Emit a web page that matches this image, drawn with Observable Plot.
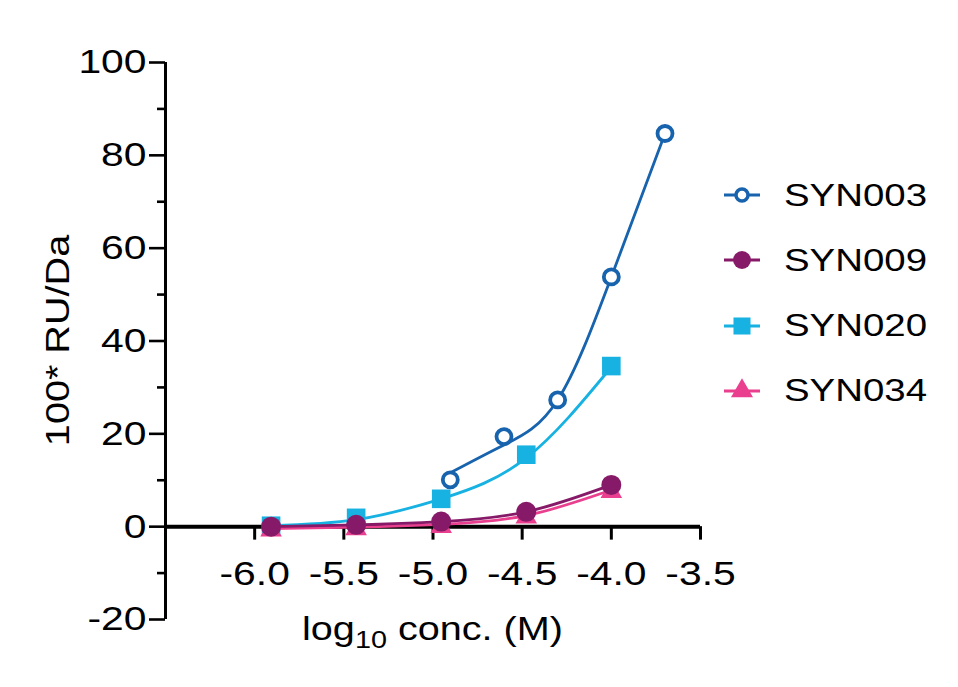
<!DOCTYPE html>
<html><head><meta charset="utf-8">
<script src="https://cdn.jsdelivr.net/npm/d3@7"></script>
<script src="https://cdn.jsdelivr.net/npm/@observablehq/plot@0.6"></script>
<style>
body{margin:0;background:#fff;}
#wrap{position:relative;width:958px;height:687px;font-family:"Liberation Sans",Arial,sans-serif;}
#legend{position:absolute;left:722px;top:0;}
.item{position:absolute;left:0;display:flex;align-items:center;height:40px;white-space:nowrap;}
.item span{font-size:32px;color:#000;transform:scaleX(1.2);transform-origin:left center;display:inline-block;margin-left:22px;}
</style></head><body><div id="wrap"></div>
<script>
// ---- data ----
const seriesNames   = ["SYN003", "SYN009", "SYN020", "SYN034"];
const seriesColors  = ["#1763ad", "#861a68", "#17b2e2", "#e93f8e"];
const seriesSymbols = ["circle", "circle", "square", "triangle"];

const xSyn003 = [-4.903, -4.602, -4.301, -4.000, -3.699];        // log10 conc. for SYN003
const xOthers = [-5.908, -5.431, -4.954, -4.477, -4.000];        // log10 conc. for SYN009/020/034

const ySyn003 = [10.1, 19.4, 27.3, 53.8, 84.7];
const ySyn009 = [0.0, 0.4, 1.1, 3.2, 9.0];
const ySyn020 = [0.2, 1.9, 6.0, 15.5, 34.6];
const ySyn034 = [-0.8, -0.5, 0.0, 2.0, 7.5];

// fitted curves, read at the same concentrations
const fitSyn003 = [11.6, 17.6, 27.3, 53.8, 84.7];
const fitSyn009 = [0.0, 0.4, 1.1, 3.2, 9.0];
const fitSyn020 = [0.2, 1.5, 6.0, 14.8, 34.4];
const fitSyn034 = [-0.4, -0.1, 0.5, 2.4, 7.9];

const xTicks = [-6.0, -5.5, -5.0, -4.5, -4.0, -3.5];
const yTicks = [-20, 0, 20, 40, 60, 80, 100];
const yMinorTicks = [-10, 10, 30, 50, 70, 90];
const xDomain = [-6.5, -3.5];
const yDomain = [-20, 100];
const xTitleParts = ["log", "10", " conc. (M)"];
const yTitle = "100* RU/Da";

// ---- tables ----
const xs = {SYN003: xSyn003, SYN009: xOthers, SYN020: xOthers, SYN034: xOthers};
const ys = {SYN003: ySyn003, SYN009: ySyn009, SYN020: ySyn020, SYN034: ySyn034};
const fits = {SYN003: fitSyn003, SYN009: fitSyn009, SYN020: fitSyn020, SYN034: fitSyn034};
const pts = [], fitRows = [];
for (const s of seriesNames) {
  xs[s].forEach((x, i) => { pts.push({s, x, y: ys[s][i]}); fitRows.push({s, x, y: fits[s][i]}); });
}
const colorOf = s => seriesColors[seriesNames.indexOf(s)];
const drawOrder = ["SYN020", "SYN034", "SYN009", "SYN003"];

const seriesMarks = [];
for (const s of drawOrder) {
  const c = colorOf(s);
  seriesMarks.push(Plot.line(fitRows.filter(d => d.s === s), {x: "x", y: "y", stroke: c, strokeWidth: 2.8, curve: "natural"}));
  const sym = seriesSymbols[seriesNames.indexOf(s)];
  const P = pts.filter(d => d.s === s);
  if (s === "SYN003") {
    seriesMarks.push(Plot.dot(P, {x: "x", y: "y", r: 7.5, fill: "white", stroke: c, strokeWidth: 3.8}));
  } else if (sym === "square") {
    seriesMarks.push(Plot.dot(P, {x: "x", y: "y", r: 10.5, symbol: "square", fill: c, stroke: "none"}));
  } else if (sym === "triangle") {
    seriesMarks.push(Plot.dot(P, {x: "x", y: "y", r: 8, symbol: "triangle", fill: c, stroke: "none"}));
  } else {
    seriesMarks.push(Plot.dot(P, {x: "x", y: "y", r: 10, fill: c, stroke: "none"}));
  }
}

const chart = Plot.plot({
  width: 958, height: 687,
  marginLeft: 165, marginRight: 258, marginTop: 62, marginBottom: 68,
  x: {domain: xDomain, axis: null},
  y: {domain: yDomain},
  style: {fontFamily: "'Liberation Sans', Arial, sans-serif", background: "white", color: "black", overflow: "visible"},
  marks: [
    Plot.axisY(yTicks, {tickSize: 16, tickPadding: 3, fontSize: 34, strokeWidth: 2.6, tickFormat: d => String(d), label: null}),
    Plot.axisY(yMinorTicks, {tickSize: 8, strokeWidth: 2.6, tickFormat: () => "", label: null}),
    Plot.ruleX([xDomain[0]], {y1: yDomain[0], y2: yDomain[1], strokeWidth: 3}),
    Plot.ruleY([0], {strokeWidth: 4}),
    Plot.ruleX(xTicks, {y1: 0, y2: -2.9, strokeWidth: 3}),
    Plot.text(xTicks, {x: d => d, y: 0, dy: 47, text: d => d.toFixed(1), fontSize: 34, fill: "black"}),
    ...seriesMarks
  ]
});

const wrap = document.getElementById("wrap");
wrap.appendChild(chart);

// axis titles
const svg = d3.select(chart);
const sx = chart.scale("x"), sy = chart.scale("y");
const xt = svg.append("text")
  .attr("x", (sx.apply(xDomain[0]) + sx.apply(xDomain[1])) / 2)
  .attr("y", 640).attr("text-anchor", "middle")
  .attr("font-size", 33).attr("fill", "black");
xt.append("tspan").text(xTitleParts[0]);
xt.append("tspan").attr("font-size", 24).attr("dy", 8).text(xTitleParts[1]);
xt.append("tspan").attr("dy", -8).text(xTitleParts[2]);
svg.append("text")
  .attr("transform", `translate(57,${(sy.apply(yDomain[0]) + sy.apply(yDomain[1])) / 2}) rotate(-90)`)
  .attr("text-anchor", "middle").attr("dominant-baseline", "central")
  .attr("font-size", 33).attr("fill", "black").text(yTitle);

// the reference typeface is horizontally wider: stretch text glyphs
chart.querySelectorAll("text").forEach(t => {
  const L = t.getComputedTextLength();
  if (L > 0) { t.setAttribute("textLength", (L * 1.2).toFixed(1)); t.setAttribute("lengthAdjust", "spacingAndGlyphs"); }
});

// legend
const legend = d3.select(wrap).append("div").attr("id", "legend");
seriesNames.forEach((s, i) => {
  const item = legend.append("div").attr("class", "item").style("top", (175 + i * 65.3) + "px");
  const isvg = item.append("svg").attr("width", 40).attr("height", 30);
  const c = seriesColors[i];
  isvg.append("line").attr("x1", 2).attr("x2", 38).attr("y1", 15).attr("y2", 15).attr("stroke", c).attr("stroke-width", 2.8);
  const sym = seriesSymbols[i];
  if (s === "SYN003") {
    isvg.append("circle").attr("cx", 20).attr("cy", 15).attr("r", 6).attr("fill", "white").attr("stroke", c).attr("stroke-width", 3.5);
  } else {
    const t = sym === "square" ? d3.symbolSquare : sym === "triangle" ? d3.symbolTriangle : d3.symbolCircle;
    const size = sym === "square" ? 290 : sym === "triangle" ? 210 : 250;
    isvg.append("path").attr("transform", "translate(20,15)").attr("d", d3.symbol(t, size)()).attr("fill", c);
  }
  item.append("span").text(s);
});
</script>
</body></html>
